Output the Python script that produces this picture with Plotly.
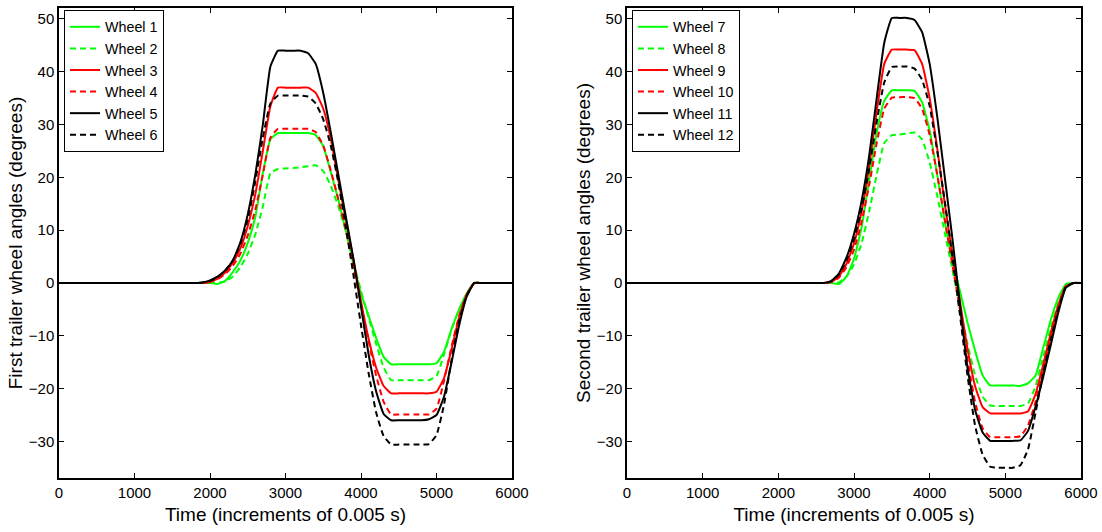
import plotly.graph_objects as go

# ---------------- data ----------------
t_left = [0, 1800, 1900, 2000, 2100, 2200, 2300, 2400, 2500, 2600, 2700, 2800, 2900,
          3000, 3100, 3200, 3300, 3400, 3500, 3600, 3700, 3800, 3900,
          4000, 4100, 4200, 4300, 4400, 4500, 4600, 4700, 4800, 4900,
          5000, 5100, 5200, 5300, 5400, 5500, 5600, 6000]

wheel1 = [0, 0, 0, 0, -0.2, 0.4, 2.0, 4.2, 7.6, 12.5, 20.8, 27.2, 28.4,
          28.4, 28.4, 28.4, 28.4, 28.0, 25.9, 21.0, 15.8, 9.8, 3.5,
          -2.0, -6.2, -10.4, -14.0, -15.4, -15.4, -15.4, -15.4, -15.4, -15.4,
          -15.2, -13.0, -8.7, -5.0, -2.0, 0, 0, 0]
wheel2 = [0, 0, 0, 0, 0, 0.3, 1.2, 3.0, 5.5, 9.2, 14.5, 20.8, 21.6,
          21.7, 21.8, 21.9, 22.1, 22.3, 21.2, 18.4, 14.5, 9.8, 4.0,
          -1.5, -6.5, -11.5, -16.0, -18.4, -18.4, -18.4, -18.4, -18.4, -18.4,
          -17.6, -13.5, -8.8, -5.0, -2.0, 0, 0, 0]
wheel3 = [0, 0, 0, 0.2, 0.8, 2.0, 3.8, 6.5, 10.8, 16.8, 25.0, 33.5, 37.0,
          37.0, 37.0, 37.0, 37.0, 36.0, 33.0, 27.3, 19.5, 11.8, 4.5,
          -3.5, -10.5, -16.0, -19.5, -20.9, -20.9, -20.9, -20.9, -20.9, -20.9,
          -20.6, -18.0, -12.5, -6.5, -2.2, 0, 0, 0]
wheel4 = [0, 0, 0, 0.2, 0.7, 1.7, 3.2, 5.5, 9.0, 13.8, 20.5, 27.5, 29.2,
          29.2, 29.2, 29.2, 29.2, 28.6, 26.0, 21.3, 15.8, 10.0, 3.0,
          -4.0, -11.0, -17.5, -22.5, -24.9, -24.9, -24.9, -24.9, -24.9, -24.9,
          -23.8, -18.5, -12.0, -6.2, -2.2, 0, 0, 0]
wheel5 = [0, 0, 0.1, 0.5, 1.2, 2.4, 4.2, 7.6, 13.0, 20.5, 30.0, 41.0, 44.0,
          44.0, 44.0, 44.0, 43.5, 41.5, 36.0, 28.5, 20.5, 12.5, 4.5,
          -4.5, -13.5, -20.5, -24.8, -26.0, -26.0, -26.0, -26.0, -26.0, -25.8,
          -25.0, -21.5, -15.0, -8.0, -2.6, 0, 0, 0]
wheel6 = [0, 0, 0.1, 0.4, 1.1, 2.3, 4.2, 7.3, 12.0, 19.2, 27.5, 34.0, 35.5,
          35.5, 35.5, 35.5, 35.3, 34.0, 31.0, 26.0, 19.0, 10.5, 1.5,
          -8.0, -17.0, -24.5, -29.0, -30.6, -30.6, -30.6, -30.6, -30.6, -30.5,
          -28.8, -23.0, -14.5, -7.2, -2.4, 0, 0, 0]

t_right = [0, 2500, 2600, 2700, 2800, 2900,
           3000, 3100, 3200, 3300, 3400, 3500, 3600, 3700, 3800, 3900,
           4000, 4100, 4200, 4300, 4400, 4500, 4600, 4700, 4800, 4900,
           5000, 5100, 5200, 5300, 5400, 5500, 5600, 5700, 5800, 5900, 6000]

wheel7 = [0, 0, 0, 0, -0.2, 1.2,
          4.6, 10.5, 19.5, 28.5, 34.5, 36.5, 36.5, 36.5, 36.4, 34.2,
          28.9, 20.5, 11.7, 4.2, -1.5, -7.5, -12.8, -17.5, -19.4, -19.4,
          -19.4, -19.4, -19.5, -19.0, -17.5, -12.3, -7.0, -2.8, -0.2, 0, 0]
wheel8 = [0, 0, 0, 0, 0.1, 1.2,
          3.5, 7.5, 13.5, 20.5, 26.5, 28.0, 28.1, 28.3, 28.5, 27.2,
          22.8, 16.5, 9.5, 2.5, -4.5, -11.5, -17.5, -21.5, -23.2, -23.3,
          -23.3, -23.3, -23.3, -22.8, -19.5, -14.0, -8.5, -3.8, -0.5, 0, 0]
wheel9 = [0, 0, 0, 0.2, 1.2, 3.6,
          7.5, 13.5, 22.0, 32.5, 41.5, 44.2, 44.2, 44.2, 44.1, 41.5,
          35.0, 25.5, 15.0, 5.5, -3.5, -12.5, -19.5, -23.5, -24.7, -24.7,
          -24.7, -24.7, -24.7, -24.3, -21.0, -15.5, -9.5, -4.2, -0.6, 0, 0]
wheel10 = [0, 0, 0, 0.2, 1.0, 3.0,
           6.3, 11.5, 18.5, 26.5, 33.0, 35.1, 35.2, 35.2, 35.0, 33.0,
           28.0, 20.5, 12.0, 3.5, -5.0, -14.5, -22.5, -27.5, -29.2, -29.2,
           -29.2, -29.2, -29.0, -27.0, -22.5, -16.5, -10.5, -4.8, -0.7, 0, 0]
wheel11 = [0, 0, 0, 0.4, 1.8, 4.8,
           9.3, 15.5, 24.0, 35.0, 45.5, 50.2, 50.2, 50.2, 49.8, 47.5,
           41.5, 31.5, 20.0, 8.5, -4.0, -16.0, -24.0, -28.3, -29.9, -29.9,
           -29.9, -29.9, -29.8, -28.0, -23.4, -17.8, -11.8, -5.6, -0.9, 0, 0]
wheel12 = [0, 0, 0, 0.3, 1.6, 4.3,
           8.3, 14.0, 21.5, 30.5, 38.0, 40.9, 41.0, 41.0, 40.6, 38.5,
           33.5, 25.0, 15.5, 5.0, -6.0, -17.5, -27.0, -32.5, -34.8, -35.0,
           -35.0, -35.0, -34.5, -31.5, -24.5, -17.0, -10.8, -5.0, -0.7, 0, 0]

x_ticks = [0, 1000, 2000, 3000, 4000, 5000, 6000]
y_ticks = [-30, -20, -10, 0, 10, 20, 30, 40, 50]

left_series = [("Wheel 1", wheel1), ("Wheel 2", wheel2), ("Wheel 3", wheel3),
               ("Wheel 4", wheel4), ("Wheel 5", wheel5), ("Wheel 6", wheel6)]
right_series = [("Wheel 7", wheel7), ("Wheel 8", wheel8), ("Wheel 9", wheel9),
                ("Wheel 10", wheel10), ("Wheel 11", wheel11), ("Wheel 12", wheel12)]

# ---------------- styling ----------------
colors = ["#00ff00", "#00ff00", "#ff0000", "#ff0000", "#000000", "#000000"]
dashes = ["solid", "6px,4px", "solid", "6px,4px", "solid", "6px,4px"]
FONT = "Liberation Sans, Arial, Helvetica, sans-serif"

fig = go.Figure()
for i, (name, vals) in enumerate(left_series):
    fig.add_trace(go.Scatter(x=t_left, y=vals, name=name, mode="lines",
                             line=dict(color=colors[i], width=2, dash=dashes[i],
                                       shape="spline", smoothing=0.4),
                             xaxis="x", yaxis="y", legend="legend"))
for i, (name, vals) in enumerate(right_series):
    fig.add_trace(go.Scatter(x=t_right, y=vals, name=name, mode="lines",
                             line=dict(color=colors[i], width=2, dash=dashes[i],
                                       shape="spline", smoothing=0.4),
                             xaxis="x2", yaxis="y2", legend="legend2"))

W, H = 1102, 532
axis_common = dict(showline=True, linecolor="black", linewidth=1.5, mirror="ticks",
                   ticks="inside", ticklen=5, tickwidth=1, tickcolor="black",
                   showgrid=False, zeroline=False, automargin=False,
                   tickfont=dict(family=FONT, size=15, color="black"))
yr = [-36.93, 52.08]
ydom = [1 - 478 / H, 1 - 8 / H]
title_font = dict(family=FONT, size=19, color="black")

fig.update_layout(
    width=W, height=H, margin=dict(l=0, r=0, t=0, b=0, autoexpand=False),
    paper_bgcolor="white", plot_bgcolor="white",
    font=dict(family=FONT, color="black"),
    xaxis=dict(domain=[59 / W, 512 / W], range=[0, 6000], tickvals=x_ticks,
               title=dict(text="Time (increments of 0.005 s)", font=title_font, standoff=8),
               anchor="y", **axis_common),
    yaxis=dict(domain=ydom, range=yr, tickvals=y_ticks,
               title=dict(text="First trailer wheel angles (degrees)", font=title_font, standoff=1),
               anchor="x", **axis_common),
    xaxis2=dict(domain=[627 / W, 1081 / W], range=[0, 6000], tickvals=x_ticks,
                title=dict(text="Time (increments of 0.005 s)", font=title_font, standoff=8),
                anchor="y2", **axis_common),
    yaxis2=dict(domain=ydom, range=yr, tickvals=y_ticks,
                title=dict(text="Second trailer wheel angles (degrees)", font=title_font, standoff=1),
                anchor="x2", **axis_common),
    legend=dict(x=64 / W, y=1 - 10 / H, xanchor="left", yanchor="top",
                bordercolor="black", borderwidth=1, bgcolor="white",
                font=dict(family=FONT, size=14.3, color="black"),
                itemwidth=30, tracegroupgap=0),
    legend2=dict(x=632 / W, y=1 - 10 / H, xanchor="left", yanchor="top",
                 bordercolor="black", borderwidth=1, bgcolor="white",
                 font=dict(family=FONT, size=14.3, color="black"),
                 itemwidth=30, tracegroupgap=0),
    showlegend=True,
)

fig.write_html("out.html",
               config={"displayModeBar": False},
               post_script="document.body.style.margin='0';document.body.style.padding='0';")
